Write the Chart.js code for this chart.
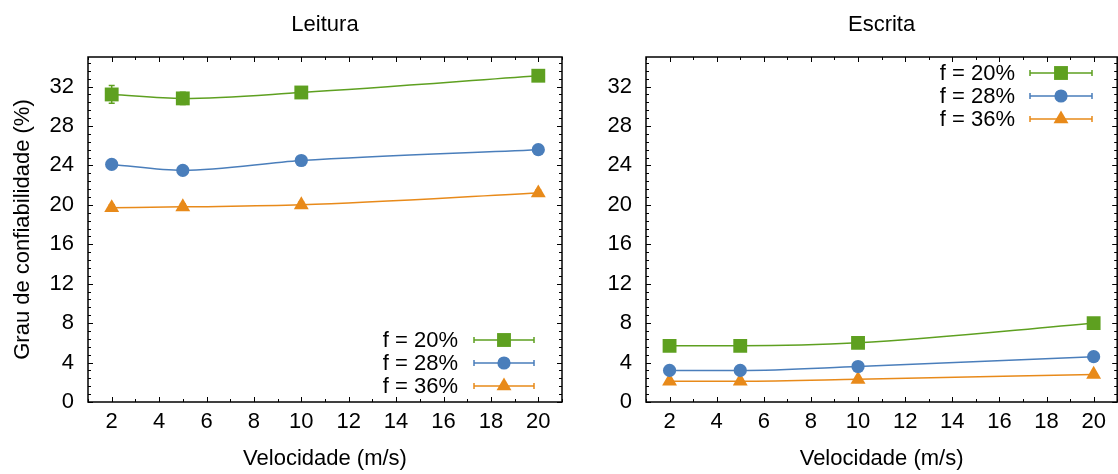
<!DOCTYPE html>
<html>
<head>
<meta charset="utf-8">
<script src="https://cdn.jsdelivr.net/npm/chart.js@4/dist/chart.umd.min.js"></script>
<style>
body { margin: 0; background: #fff; overflow: hidden; }
#wrap { position: relative; width: 1118px; height: 474px; overflow: hidden; }
#chartLeitura { position: absolute; left: 0; top: 0; }
#chartEscrita { position: absolute; left: 575px; top: 0; }
</style>
</head>
<body>
<div id="wrap">
<canvas id="chartLeitura" width="575" height="474"></canvas>
<canvas id="chartEscrita" width="552" height="474"></canvas>
</div>
<script>
// dados
var velocidades = [2, 5, 10, 20];
var rotulos = ['f = 20%', 'f = 28%', 'f = 36%'];

var leitura20 = [31.2, 30.8, 31.4, 33.1];
var leitura28 = [24.1, 23.5, 24.5, 25.6];
var leitura36 = [19.7, 19.8, 20.0, 21.2];
var erroLeitura20 = [0.9, 0.62, 0.4, 0.4];
var erroLeitura28 = [0.3, 0.3, 0.3, 0.3];
var erroLeitura36 = [0.3, 0.3, 0.3, 0.3];

var escrita20 = [5.7, 5.7, 6.0, 8.0];
var escrita28 = [3.2, 3.2, 3.6, 4.6];
var escrita36 = [2.1, 2.1, 2.3, 2.8];
var erroEscrita20 = [0.3, 0.3, 0.3, 0.3];
var erroEscrita28 = [0.2, 0.2, 0.2, 0.2];
var erroEscrita36 = [0.2, 0.2, 0.2, 0.2];

var xTicks = [2, 4, 6, 8, 10, 12, 14, 16, 18, 20];
var yTicks = [0, 4, 8, 12, 16, 20, 24, 28, 32];

var verde = 'rgb(94, 160, 32)';
var azul = 'rgb(74, 126, 187)';
var laranja = 'rgb(232, 138, 26)';
var cores = [verde, azul, laranja];
var estilos = ['rect', 'circle', 'triangle'];
var raios = [9.8, 6.6, 8.6];

var fonte = "'Liberation Sans', Arial, sans-serif";

function pontos(valores) {
    return velocidades.map(function (v, i) { return { x: v, y: valores[i] }; });
}

function serie(valores, erros, i) {
    return {
        label: rotulos[i],
        data: pontos(valores),
        erros: erros,
        borderColor: cores[i],
        backgroundColor: cores[i],
        borderWidth: 1.5,
        pointStyle: estilos[i],
        pointRadius: raios[i],
        pointHoverRadius: raios[i],
        pointBorderWidth: 0,
        cubicInterpolationMode: 'monotone',
        fill: false
    };
}

function marcador(ctx, estilo, x, y, r, cor) {
    ctx.fillStyle = cor;
    ctx.beginPath();
    if (estilo === 'rect') {
        var s = r * Math.SQRT1_2;
        ctx.rect(x - s, y - s, 2 * s, 2 * s);
    } else if (estilo === 'circle') {
        ctx.arc(x, y, r, 0, Math.PI * 2);
    } else {
        var a = -Math.PI / 2;
        ctx.moveTo(x + Math.cos(a) * r, y + Math.sin(a) * r);
        a += Math.PI * 2 / 3;
        ctx.lineTo(x + Math.cos(a) * r, y + Math.sin(a) * r);
        a += Math.PI * 2 / 3;
        ctx.lineTo(x + Math.cos(a) * r, y + Math.sin(a) * r);
        ctx.closePath();
    }
    ctx.fill();
}

// titulo, barras de erro, moldura com ticks para dentro e legenda estilo gnuplot
var plotExtras = {
    id: 'plotExtras',
    beforeDatasetsDraw: function (chart) {
        var ctx = chart.ctx, sx = chart.scales.x, sy = chart.scales.y;
        ctx.save();
        ctx.lineWidth = 1.5;
        chart.data.datasets.forEach(function (ds) {
            ctx.strokeStyle = ds.borderColor;
            ds.data.forEach(function (p, i) {
                var e = ds.erros[i];
                var px = sx.getPixelForValue(p.x);
                var y1 = sy.getPixelForValue(p.y - e);
                var y2 = sy.getPixelForValue(p.y + e);
                ctx.beginPath();
                ctx.moveTo(px, y1); ctx.lineTo(px, y2);
                ctx.moveTo(px - 3, y1); ctx.lineTo(px + 3, y1);
                ctx.moveTo(px - 3, y2); ctx.lineTo(px + 3, y2);
                ctx.stroke();
            });
        });
        ctx.restore();
    },
    afterDraw: function (chart, args, opts) {
        var ctx = chart.ctx, a = chart.chartArea;
        var sx = chart.scales.x, sy = chart.scales.y;
        ctx.save();
        ctx.strokeStyle = '#000';
        ctx.lineWidth = 1;
        var v, k, px, py, len;
        for (v = sx.min; v <= sx.max; v += 1) {
            len = v % 2 === 0 ? 5 : 3;
            px = Math.round(sx.getPixelForValue(v)) + 0.5;
            ctx.beginPath();
            ctx.moveTo(px, a.bottom); ctx.lineTo(px, a.bottom - len);
            ctx.moveTo(px, a.top); ctx.lineTo(px, a.top + len);
            ctx.stroke();
        }
        for (k = 0; k * 0.8 <= sy.max; k++) {
            len = k % 5 === 0 ? 5 : 3;
            py = Math.round(sy.getPixelForValue(k * 0.8)) + 0.5;
            ctx.beginPath();
            ctx.moveTo(a.left, py); ctx.lineTo(a.left + len, py);
            ctx.moveTo(a.right, py); ctx.lineTo(a.right - len, py);
            ctx.stroke();
        }
        ctx.lineWidth = 1.5;
        ctx.strokeRect(a.left, a.top, a.right - a.left, a.bottom - a.top);

        ctx.font = '22px ' + fonte;
        ctx.fillStyle = '#000';
        ctx.textAlign = 'center';
        ctx.textBaseline = 'middle';
        ctx.fillText(opts.titulo, (a.left + a.right) / 2, 25);

        // legenda
        var L = opts.legenda;
        ctx.textAlign = 'right';
        chart.data.datasets.forEach(function (ds, i) {
            var y = L.y + i * 23;
            ctx.fillStyle = '#000';
            ctx.fillText(ds.label, L.texto, y + 1);
            ctx.strokeStyle = ds.borderColor;
            ctx.lineWidth = 1.5;
            ctx.beginPath();
            ctx.moveTo(L.x1, y); ctx.lineTo(L.x2, y);
            ctx.moveTo(L.x1, y - 3); ctx.lineTo(L.x1, y + 3);
            ctx.moveTo(L.x2, y - 3); ctx.lineTo(L.x2, y + 3);
            ctx.stroke();
            marcador(ctx, estilos[i], (L.x1 + L.x2) / 2, y, raios[i], ds.borderColor);
        });
        ctx.restore();
    }
};

function criaGrafico(id, titulo, series, larguraY, tituloY, legenda, padDir) {
    var ctx = document.getElementById(id).getContext('2d');
    return new Chart(ctx, {
        type: 'line',
        data: { datasets: series },
        plugins: [plotExtras],
        options: {
            responsive: false,
            animation: false,
            layout: { padding: { left: 0, right: padDir, top: 57, bottom: 0 } },
            plugins: {
                legend: { display: false },
                tooltip: { enabled: false },
                title: { display: false },
                plotExtras: { legenda: legenda, titulo: titulo }
            },
            scales: {
                x: {
                    type: 'linear',
                    min: 1,
                    max: 21,
                    afterBuildTicks: function (s) { s.ticks = xTicks.map(function (v) { return { value: v }; }); },
                    afterFit: function (s) { s.height = 72; s.paddingLeft = 0; s.paddingRight = 0; },
                    grid: { display: false, drawTicks: false },
                    border: { display: false },
                    ticks: { color: '#000', padding: 7, maxRotation: 0, font: { family: fonte, size: 22 } },
                    title: {
                        display: true,
                        text: 'Velocidade (m/s)',
                        color: '#000',
                        font: { family: fonte, size: 22 },
                        padding: { top: 0, bottom: 2 }
                    }
                },
                y: {
                    min: 0,
                    max: 35,
                    afterBuildTicks: function (s) { s.ticks = yTicks.map(function (v) { return { value: v }; }); },
                    afterFit: function (s) { s.width = larguraY; s.paddingTop = 0; s.paddingBottom = 0; },
                    grid: { display: false, drawTicks: false },
                    border: { display: false },
                    ticks: { color: '#000', padding: 14, font: { family: fonte, size: 22 } },
                    title: {
                        display: tituloY !== '',
                        text: tituloY,
                        color: '#000',
                        font: { family: fonte, size: 22 },
                        padding: { top: 10, bottom: 0 }
                    }
                }
            }
        }
    });
}

criaGrafico('chartLeitura', 'Leitura', [
    serie(leitura20, erroLeitura20, 0),
    serie(leitura28, erroLeitura28, 1),
    serie(leitura36, erroLeitura36, 2)
], 88, 'Grau de confiabilidade (%)', { texto: 458, x1: 474, x2: 534, y: 340 }, 13);

criaGrafico('chartEscrita', 'Escrita', [
    serie(escrita20, erroEscrita20, 0),
    serie(escrita28, erroEscrita28, 1),
    serie(escrita36, erroEscrita36, 2)
], 71, '', { texto: 440, x1: 455, x2: 517, y: 73 }, 1);
</script>
</body>
</html>
